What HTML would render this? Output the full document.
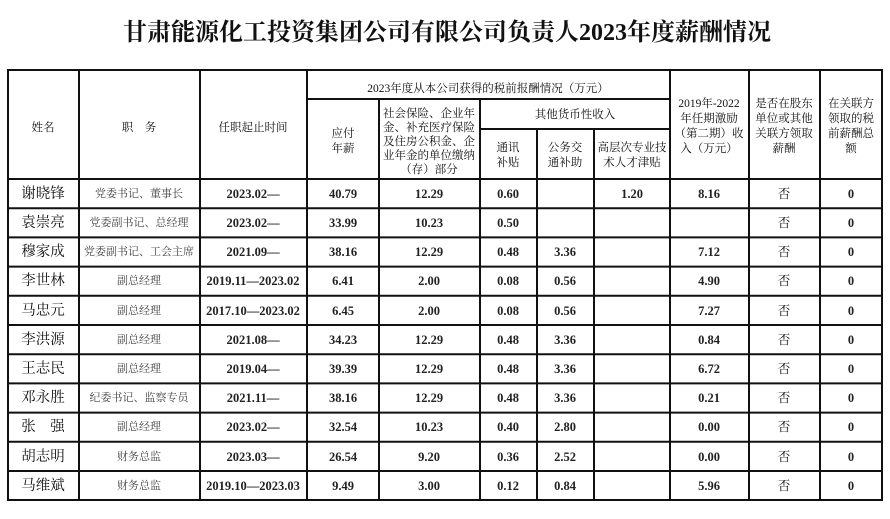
<!DOCTYPE html>
<html><head><meta charset="utf-8"><style>
html,body{margin:0;padding:0;background:#fff}
svg{display:block}
text{font-family:"Liberation Serif","Noto Serif CJK SC",serif;fill:#111;text-anchor:middle}
.h{font-size:11.5px}
.d{font-size:12.5px;font-weight:bold;fill:#222}
.f{font-size:12.5px}
.n{font-size:14.5px}
.p{font-size:11px;fill:#444}
</style></head><body>
<svg width="890" height="519" viewBox="0 0 890 519">
<text x="447" y="40" style="font-size:24px;font-weight:bold">甘肃能源化工投资集团公司有限公司负责人2023年度薪酬情况</text>
<g stroke="#111" stroke-width="2" fill="none">
<rect x="8" y="70" width="874" height="430"/>
<line x1="79" y1="70" x2="79" y2="500"/>
<line x1="200" y1="70" x2="200" y2="500"/>
<line x1="307" y1="70" x2="307" y2="500"/>
<line x1="379" y1="99" x2="379" y2="500"/>
<line x1="480" y1="99" x2="480" y2="500"/>
<line x1="537" y1="129" x2="537" y2="500"/>
<line x1="594" y1="129" x2="594" y2="500"/>
<line x1="670" y1="70" x2="670" y2="500"/>
<line x1="749" y1="70" x2="749" y2="500"/>
<line x1="820" y1="70" x2="820" y2="500"/>
<line x1="307" y1="99" x2="670" y2="99"/>
<line x1="480" y1="129" x2="670" y2="129"/>
<line x1="8" y1="179" x2="882" y2="179"/>
<line x1="8" y1="208.2" x2="882" y2="208.2"/>
<line x1="8" y1="237.4" x2="882" y2="237.4"/>
<line x1="8" y1="266.6" x2="882" y2="266.6"/>
<line x1="8" y1="295.8" x2="882" y2="295.8"/>
<line x1="8" y1="325" x2="882" y2="325"/>
<line x1="8" y1="354.2" x2="882" y2="354.2"/>
<line x1="8" y1="383.4" x2="882" y2="383.4"/>
<line x1="8" y1="412.6" x2="882" y2="412.6"/>
<line x1="8" y1="441.8" x2="882" y2="441.8"/>
<line x1="8" y1="471" x2="882" y2="471"/>
</g>
<g>
<text class="h" x="43" y="131">姓名</text>
<text class="h" x="139" y="131">职　务</text>
<text class="h" x="253" y="131">任职起止时间</text>
<text class="h" x="488" y="92">2023年度从本公司获得的税前报酬情况（万元）</text>
<text class="h" x="343" y="137">应付</text><text class="h" x="343" y="152">年薪</text>
<text class="h" x="429" y="117">社会保险、企业年</text>
<text class="h" x="429" y="131">金、补充医疗保险</text>
<text class="h" x="429" y="145">及住房公积金、企</text>
<text class="h" x="429" y="159">业年金的单位缴纳</text>
<text class="h" x="429" y="173">（存）部分</text>
<text class="h" x="575" y="118">其他货币性收入</text>
<text class="h" x="508" y="151">通讯</text><text class="h" x="508" y="166">补贴</text>
<text class="h" x="565" y="151">公务交</text><text class="h" x="565" y="166">通补助</text>
<text class="h" x="632" y="151">高层次专业技</text><text class="h" x="632" y="166">术人才津贴</text>
<text class="h" x="709" y="107">2019年-2022</text><text class="h" x="709" y="122">年任期激励</text><text class="h" x="709" y="137">（第二期）收</text><text class="h" x="709" y="152">入（万元）</text>
<text class="h" x="784" y="107">是否在股东</text><text class="h" x="784" y="122">单位或其他</text><text class="h" x="784" y="137">关联方领取</text><text class="h" x="784" y="152">薪酬</text>
<text class="h" x="851" y="107">在关联方</text><text class="h" x="851" y="122">领取的税</text><text class="h" x="851" y="137">前薪酬总</text><text class="h" x="851" y="152">额</text>
</g>
<g>
<text class="n" x="43" y="198">谢晓锋</text><text class="p" x="139" y="197">党委书记、董事长</text><text class="d" x="253" y="198">2023.02—</text><text class="d" x="343" y="198">40.79</text><text class="d" x="429" y="198">12.29</text><text class="d" x="508" y="198">0.60</text><text class="d" x="632" y="198">1.20</text><text class="d" x="709" y="198">8.16</text><text class="f" x="784" y="198">否</text><text class="d" x="851" y="198">0</text>

<text class="n" x="43" y="227">袁崇亮</text><text class="p" x="139" y="226">党委副书记、总经理</text><text class="d" x="253" y="227">2023.02—</text><text class="d" x="343" y="227">33.99</text><text class="d" x="429" y="227">10.23</text><text class="d" x="508" y="227">0.50</text><text class="f" x="784" y="227">否</text><text class="d" x="851" y="227">0</text>

<text class="n" x="43" y="256">穆家成</text><text class="p" x="139" y="255">党委副书记、工会主席</text><text class="d" x="253" y="256">2021.09—</text><text class="d" x="343" y="256">38.16</text><text class="d" x="429" y="256">12.29</text><text class="d" x="508" y="256">0.48</text><text class="d" x="565" y="256">3.36</text><text class="d" x="709" y="256">7.12</text><text class="f" x="784" y="256">否</text><text class="d" x="851" y="256">0</text>

<text class="n" x="43" y="285">李世林</text><text class="p" x="139" y="284">副总经理</text><text class="d" x="253" y="285">2019.11—2023.02</text><text class="d" x="343" y="285">6.41</text><text class="d" x="429" y="285">2.00</text><text class="d" x="508" y="285">0.08</text><text class="d" x="565" y="285">0.56</text><text class="d" x="709" y="285">4.90</text><text class="f" x="784" y="285">否</text><text class="d" x="851" y="285">0</text>

<text class="n" x="43" y="315">马忠元</text><text class="p" x="139" y="314">副总经理</text><text class="d" x="253" y="315">2017.10—2023.02</text><text class="d" x="343" y="315">6.45</text><text class="d" x="429" y="315">2.00</text><text class="d" x="508" y="315">0.08</text><text class="d" x="565" y="315">0.56</text><text class="d" x="709" y="315">7.27</text><text class="f" x="784" y="315">否</text><text class="d" x="851" y="315">0</text>

<text class="n" x="43" y="344">李洪源</text><text class="p" x="139" y="343">副总经理</text><text class="d" x="253" y="344">2021.08—</text><text class="d" x="343" y="344">34.23</text><text class="d" x="429" y="344">12.29</text><text class="d" x="508" y="344">0.48</text><text class="d" x="565" y="344">3.36</text><text class="d" x="709" y="344">0.84</text><text class="f" x="784" y="344">否</text><text class="d" x="851" y="344">0</text>

<text class="n" x="43" y="373">王志民</text><text class="p" x="139" y="372">副总经理</text><text class="d" x="253" y="373">2019.04—</text><text class="d" x="343" y="373">39.39</text><text class="d" x="429" y="373">12.29</text><text class="d" x="508" y="373">0.48</text><text class="d" x="565" y="373">3.36</text><text class="d" x="709" y="373">6.72</text><text class="f" x="784" y="373">否</text><text class="d" x="851" y="373">0</text>

<text class="n" x="43" y="402">邓永胜</text><text class="p" x="139" y="401">纪委书记、监察专员</text><text class="d" x="253" y="402">2021.11—</text><text class="d" x="343" y="402">38.16</text><text class="d" x="429" y="402">12.29</text><text class="d" x="508" y="402">0.48</text><text class="d" x="565" y="402">3.36</text><text class="d" x="709" y="402">0.21</text><text class="f" x="784" y="402">否</text><text class="d" x="851" y="402">0</text>

<text class="n" x="43" y="431">张　强</text><text class="p" x="139" y="430">副总经理</text><text class="d" x="253" y="431">2023.02—</text><text class="d" x="343" y="431">32.54</text><text class="d" x="429" y="431">10.23</text><text class="d" x="508" y="431">0.40</text><text class="d" x="565" y="431">2.80</text><text class="d" x="709" y="431">0.00</text><text class="f" x="784" y="431">否</text><text class="d" x="851" y="431">0</text>

<text class="n" x="43" y="461">胡志明</text><text class="p" x="139" y="460">财务总监</text><text class="d" x="253" y="461">2023.03—</text><text class="d" x="343" y="461">26.54</text><text class="d" x="429" y="461">9.20</text><text class="d" x="508" y="461">0.36</text><text class="d" x="565" y="461">2.52</text><text class="d" x="709" y="461">0.00</text><text class="f" x="784" y="461">否</text><text class="d" x="851" y="461">0</text>

<text class="n" x="43" y="490">马维斌</text><text class="p" x="139" y="489">财务总监</text><text class="d" x="253" y="490">2019.10—2023.03</text><text class="d" x="343" y="490">9.49</text><text class="d" x="429" y="490">3.00</text><text class="d" x="508" y="490">0.12</text><text class="d" x="565" y="490">0.84</text><text class="d" x="709" y="490">5.96</text><text class="f" x="784" y="490">否</text><text class="d" x="851" y="490">0</text>
</g>
</svg>
</body></html>
